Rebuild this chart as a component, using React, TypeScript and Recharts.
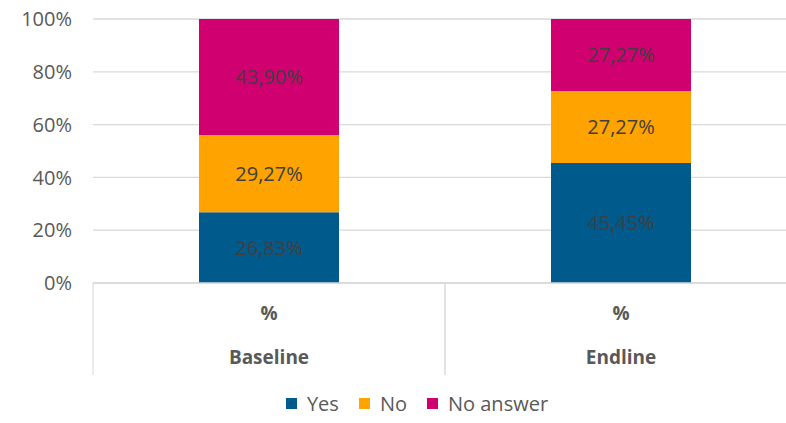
import { Bar, BarChart, CartesianGrid, LabelList, Legend, XAxis, YAxis } from "recharts";

const categories = ["Baseline", "Endline"];
const subLabel = "%";
const yesValues = [26.83, 45.45];
const noValues = [29.27, 27.27];
const noAnswerValues = [43.9, 27.27];
const yTicks = [0, 20, 40, 60, 80, 100];

const SERIES = [
  { key: "yes", name: "Yes", color: "#005A8C" },
  { key: "no", name: "No", color: "#FFA300" },
  { key: "noAnswer", name: "No answer", color: "#D10070" },
];

const data = categories.map((name, i) => ({
  name,
  yes: yesValues[i],
  no: noValues[i],
  noAnswer: noAnswerValues[i],
}));

const FONT = "'Open Sans', 'Liberation Sans', sans-serif";
const AXIS_GREY = "#D9D9D9";
const TEXT_GREY = "#595959";

const formatPct = (v: unknown) => `${Number(v).toFixed(2).replace(".", ",")}%`;

function CategoryTick(props: any) {
  const { x, y, payload } = props;
  const half = payload?.offset ?? 176;
  const top = y;
  return (
    <g>
      <line x1={x - half} y1={top} x2={x - half} y2={top + 92} stroke={AXIS_GREY} strokeWidth={1} />
      <line x1={x + half} y1={top} x2={x + half} y2={top + 92} stroke={AXIS_GREY} strokeWidth={1} />
      <text x={x} y={top + 37} textAnchor="middle" fill={TEXT_GREY} fontSize={19} fontWeight={700} fontFamily={FONT}>
        {subLabel}
      </text>
      <text x={x} y={top + 81} textAnchor="middle" fill={TEXT_GREY} fontSize={19} fontWeight={700} fontFamily={FONT}>
        {payload.value}
      </text>
    </g>
  );
}

function LegendContent() {
  return (
    <div style={{ display: "flex", justifyContent: "center", gap: 20, paddingTop: 15, fontFamily: FONT, fontSize: 20, color: TEXT_GREY }}>
      {SERIES.map((s) => (
        <div key={s.key} style={{ display: "flex", alignItems: "center", gap: 10 }}>
          <span style={{ width: 11, height: 11, background: s.color, display: "inline-block" }} />
          <span>{s.name}</span>
        </div>
      ))}
    </div>
  );
}

export default function App() {
  return (
    <div style={{ position: "absolute", left: 0, top: 0, width: 786, height: 423, overflow: "hidden", background: "#fff" }}>
      <BarChart width={810} height={423} data={data} margin={{ top: 19, right: 13, bottom: 0, left: 0 }}>
        <CartesianGrid vertical={false} stroke={AXIS_GREY} strokeWidth={1.3} />
        <XAxis
          dataKey="name"
          height={92}
          axisLine={{ stroke: AXIS_GREY, strokeWidth: 1.3 }}
          tickLine={false}
          tickSize={0}
          tickMargin={0}
          interval={0}
          tick={<CategoryTick />}
        />
        <YAxis
          width={93}
          domain={[0, 100]}
          ticks={yTicks}
          axisLine={false}
          tickLine={false}
          tickSize={0}
          tickMargin={21}
          tickFormatter={(v) => `${v}%`}
          tick={{ fill: TEXT_GREY, fontSize: 20, fontFamily: FONT }}
        />
        <Legend
          verticalAlign="bottom"
          height={48}
          wrapperStyle={{ left: 0, width: 834 }}
          content={<LegendContent />}
        />
        {SERIES.map((s) => (
          <Bar key={s.key} dataKey={s.key} name={s.name} stackId="a" fill={s.color} barSize={140} isAnimationActive={false}>
            <LabelList dataKey={s.key} position="center" formatter={formatPct} fill="#404040" fontSize={20} fontFamily={FONT} />
          </Bar>
        ))}
      </BarChart>
    </div>
  );
}
